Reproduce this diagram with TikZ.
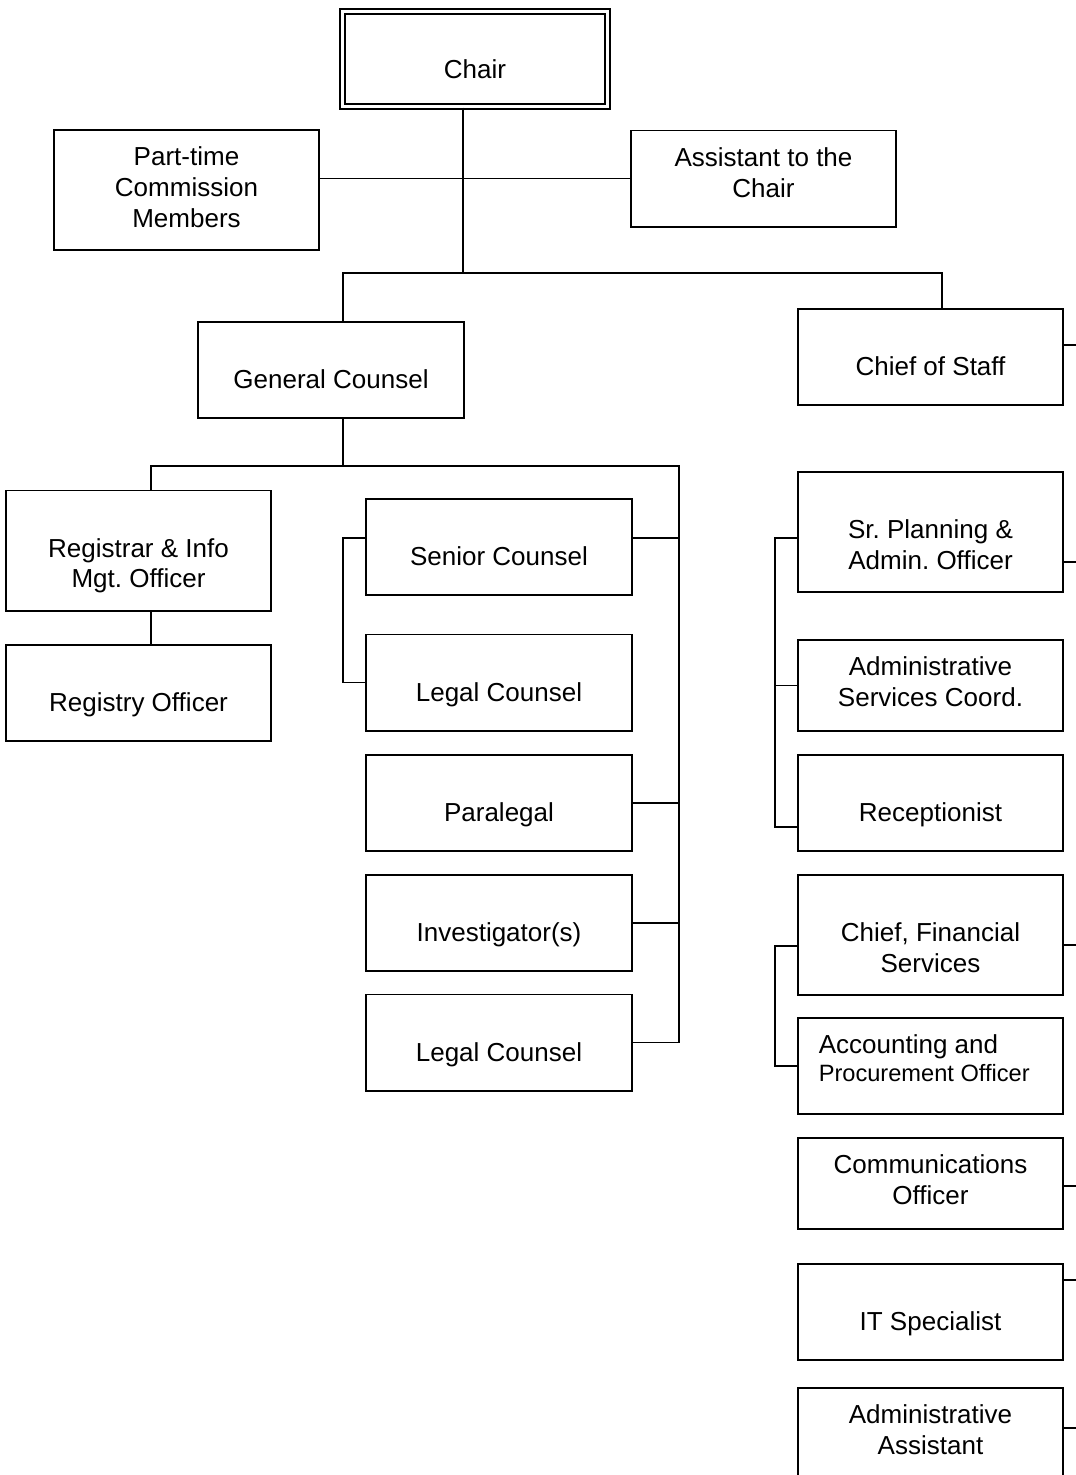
\documentclass[tikz,border=0pt]{standalone}
\usepackage{fontspec}
\setmainfont{Liberation Sans}
\usepackage{tikz}
\usetikzlibrary{positioning, calc}

% text of a box, set from its top edge
\newcommand{\orgtext}[2]{\parbox[c][#1][t]{6.625cm}{\centering\vspace*{10.3pt}\strut#2}}

\begin{document}
\begin{tikzpicture}[
    x=0.025cm, y=-0.025cm,
    line width=1.4pt,
    box/.style={
        draw,
        inner sep=0pt,
        font=\fontsize{18.5}{21.8}\selectfont\frenchspacing
    },
    chairbox/.style={
        box,
        double,
        double distance=2.1pt
    }
]

\useasboundingbox (0,0) rectangle (1076,1475);

% Chair
\node[chairbox] (chair) at (475,59) {\orgtext{2.375cm}{\mbox{}\\Chair}};
\node[box] (ptc) at (186.5,190) {\orgtext{3cm}{Part-time\\Commission\\Members}};
\node[box] (asst) at (763.5,178.5) {\orgtext{2.4cm}{Assistant to the\\Chair}};

% Second level
\node[box] (gc) at (331,370) {\orgtext{2.4cm}{\mbox{}\\General Counsel}};
\node[box] (cos) at (930.5,357) {\orgtext{2.4cm}{\mbox{}\\Chief of Staff}};

% General Counsel side
\node[box] (reg) at (138.5,550.5) {\orgtext{3cm}{\mbox{}\\Registrar \& Info\\Mgt. Officer}};
\node[box] (rego) at (138.5,693) {\orgtext{2.4cm}{\mbox{}\\Registry Officer}};
\node[box] (sc) at (499,547) {\orgtext{2.4cm}{\mbox{}\\Senior Counsel}};
\node[box] (lc1) at (499,682.5) {\orgtext{2.4cm}{\mbox{}\\Legal Counsel}};
\node[box] (pl) at (499,803) {\orgtext{2.4cm}{\mbox{}\\Paralegal}};
\node[box] (inv) at (499,923) {\orgtext{2.4cm}{\mbox{}\\Investigator(s)}};
\node[box] (lc2) at (499,1042.5) {\orgtext{2.4cm}{\mbox{}\\Legal Counsel}};

% Chief of Staff side
\node[box] (spa) at (930.5,532) {\orgtext{3cm}{\mbox{}\\Sr. Planning \&\\Admin. Officer}};
\node[box] (asc) at (930.5,685.5) {\orgtext{2.275cm}{Administrative\\Services Coord.}};
\node[box] (rcp) at (930.5,803) {\orgtext{2.4cm}{\mbox{}\\Receptionist}};
\node[box] (cfs) at (930.5,935) {\orgtext{3cm}{\mbox{}\\Chief, Financial\\Services}};
\node[box] (acc) at (930.5,1066) {\parbox[c][2.4cm][t]{6.625cm}{\raggedright\vspace*{10.3pt}%
    \hspace*{0.52cm}\strut Accounting and\\[-1.9pt]%
    \hspace*{0.52cm}{\fontsize{16.8}{19}\selectfont Procurement Officer}}};
\node[box] (com) at (930.5,1183.5) {\orgtext{2.275cm}{Communications\\Officer}};
\node[box] (it) at (930.5,1312) {\orgtext{2.4cm}{\mbox{}\\IT Specialist}};
\node[box] (aa) at (930.5,1436) {\orgtext{2.4cm}{Administrative\\Assistant}};

% Joints of the lines
\coordinate (chairbus) at (463,273);
\coordinate (topleft) at (343,273);
\coordinate (topright) at (942,273);
\coordinate (gcbus) at (343,466);
\coordinate (gcleft) at (151,466);
\coordinate (gcright) at (679,466);
\coordinate (legalbend) at (343,538);
\coordinate (adminbend) at (775,538);
\coordinate (adminend) at (775,827);
\coordinate (finbend) at (775,946);

% Top lines
\draw (chairbus |- chair.south) -- (chairbus);
\draw (ptc.east |- asst.west) -- (asst.west);
\draw (topleft |- gc.north) -- (topleft) -- (topright) -- (topright |- cos.north);

% General Counsel lines
\draw (gcbus |- gc.south) -- (gcbus);
\draw (gcleft |- reg.north) -- (gcleft) -- (gcright) -- (gcright |- lc2.east) -- (lc2.east);
\draw (gcleft |- reg.south) -- (gcleft |- rego.north);
\draw (sc.east |- legalbend) -- (gcright |- legalbend);
\draw (pl.east) -- (gcright |- pl.east);
\draw (inv.east) -- (gcright |- inv.east);
\draw (sc.west |- legalbend) -- (legalbend) |- (lc1.west);

% Chief of Staff lines
\draw (spa.west |- adminbend) -- (adminbend) -- (adminend) -- (rcp.west |- adminend);
\draw (adminbend |- asc.west) -- (asc.west);
\draw (cfs.west |- finbend) -- (finbend) |- (acc.west);

% Lines to the right edge
\foreach \unit/\y in {cos/345, spa/562, cfs/945, com/1186, it/1280, aa/1428} {
    \coordinate (edge-\unit) at (1076,\y);
    \draw (\unit.east |- edge-\unit) -- (edge-\unit);
}

\end{tikzpicture}
\end{document}
